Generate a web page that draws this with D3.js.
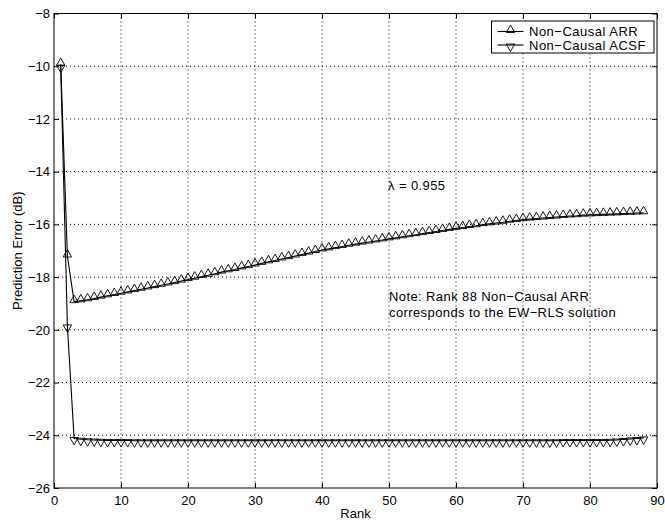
<!DOCTYPE html>
<html>
<head>
<meta charset="utf-8">
<script src="https://cdn.jsdelivr.net/npm/d3@7"></script>
<style>
  body { margin: 0; background: #fff; }
  text { font-family: "Liberation Sans", Arial, Helvetica, sans-serif; fill: #000; }
</style>
</head>
<body>
<script>
// rank 1..88
var ranks = d3.range(1, 89);

var arrValues = [
  -9.93, -17.2, -18.93, -18.9, -18.86, -18.81, -18.76, -18.71, -18.66, -18.61,
  -18.56, -18.51, -18.46, -18.41, -18.36, -18.31, -18.26, -18.21, -18.15, -18.09,
  -18.04, -17.98, -17.93, -17.87, -17.81, -17.76, -17.71, -17.65, -17.6, -17.54,
  -17.48, -17.42, -17.37, -17.31, -17.26, -17.2, -17.14, -17.09, -17.03, -16.97,
  -16.93, -16.88, -16.84, -16.79, -16.75, -16.71, -16.67, -16.63, -16.59, -16.55,
  -16.51, -16.47, -16.43, -16.39, -16.35, -16.31, -16.27, -16.23, -16.19, -16.15,
  -16.12, -16.08, -16.05, -16.01, -15.98, -15.95, -15.92, -15.88, -15.85, -15.82,
  -15.8, -15.78, -15.76, -15.74, -15.72, -15.7, -15.68, -15.67, -15.65, -15.64,
  -15.63, -15.62, -15.61, -15.6, -15.59, -15.58, -15.57, -15.56
];

var acsfValues = [
  -10.0, -19.85, -24.12, -24.15, -24.17, -24.18, -24.19, -24.2, -24.2, -24.2,
  -24.2, -24.21, -24.21, -24.21, -24.21, -24.21, -24.21, -24.21, -24.21, -24.21,
  -24.21, -24.21, -24.21, -24.21, -24.21, -24.21, -24.21, -24.21, -24.21, -24.21,
  -24.21, -24.21, -24.21, -24.21, -24.21, -24.21, -24.21, -24.21, -24.21, -24.21,
  -24.21, -24.21, -24.21, -24.21, -24.21, -24.21, -24.21, -24.21, -24.21, -24.21,
  -24.21, -24.21, -24.21, -24.21, -24.21, -24.21, -24.21, -24.21, -24.21, -24.21,
  -24.21, -24.21, -24.21, -24.21, -24.21, -24.21, -24.21, -24.21, -24.21, -24.21,
  -24.21, -24.21, -24.21, -24.21, -24.21, -24.2, -24.2, -24.2, -24.2, -24.2,
  -24.2, -24.2, -24.19, -24.18, -24.16, -24.14, -24.12, -24.1
];

var xTicks = [0, 10, 20, 30, 40, 50, 60, 70, 80, 90];
var yTicks = [-26, -24, -22, -20, -18, -16, -14, -12, -10, -8];

var seriesNames = ["Non\u2212Causal ARR", "Non\u2212Causal ACSF"];
var lambdaText = "\u03bb = 0.955";
var noteLines = ["Note: Rank 88 Non\u2212Causal ARR", "corresponds to the EW\u2212RLS solution"];

var margin = {top: 13.5, right: 8, bottom: 33, left: 54},
    W = 665, H = 521,
    width = W - margin.left - margin.right,
    height = H - margin.top - margin.bottom;

var svg = d3.select("body").append("svg")
    .attr("width", W)
    .attr("height", H);

var g = svg.append("g")
    .attr("transform", "translate(" + margin.left + "," + margin.top + ")");

var x = d3.scaleLinear().domain([0, 90]).range([0, width]);
var y = d3.scaleLinear().domain([-26, -8]).range([height, 0]);

// dotted grid
g.selectAll(".gx").data(xTicks.slice(1, -1)).enter().append("line")
    .attr("x1", d => x(d)).attr("x2", d => x(d))
    .attr("y1", 0).attr("y2", height)
    .attr("stroke", "#000").attr("stroke-width", 1)
    .attr("stroke-dasharray", "1,3");
g.selectAll(".gy").data(yTicks.slice(1, -1)).enter().append("line")
    .attr("y1", d => y(d)).attr("y2", d => y(d))
    .attr("x1", 0).attr("x2", width)
    .attr("stroke", "#000").attr("stroke-width", 1)
    .attr("stroke-dasharray", "1,3");

// axes with inward ticks
var fmt = d => d < 0 ? "\u2212" + Math.abs(d) : String(d);
var tl = 5;
var xb = g.append("g").attr("transform", "translate(0," + height + ")")
    .call(d3.axisBottom(x).tickValues(xTicks).tickSize(-tl).tickPadding(8).tickFormat(fmt));
var xt = g.append("g")
    .call(d3.axisTop(x).tickValues(xTicks).tickSize(-tl).tickFormat(""));
var yl = g.append("g")
    .call(d3.axisLeft(y).tickValues(yTicks).tickSize(-tl).tickPadding(4).tickFormat(fmt));
var yr = g.append("g").attr("transform", "translate(" + width + ",0)")
    .call(d3.axisRight(y).tickValues(yTicks).tickSize(-tl).tickFormat(""));
[xb, xt, yl, yr].forEach(function(a) {
  a.selectAll("path").remove();
  a.selectAll("line").attr("stroke", "#000");
  a.selectAll("text").style("font-size", "13px")
    .style("font-family", "'Liberation Sans', Arial, sans-serif").attr("fill", "#000");
});

g.append("rect")
    .attr("x", 0).attr("y", 0).attr("width", width).attr("height", height)
    .attr("fill", "none").attr("stroke", "#000").attr("stroke-width", 1);

// series
var arrData = ranks.map((r, i) => [r, arrValues[i]]);
var acsfData = ranks.map((r, i) => [r, acsfValues[i]]);
var line = d3.line().x(d => x(d[0])).y(d => y(d[1]));

var tw = 4.2, th = 7.5;
function upTri(cx, cy) {
  return "M" + (cx - tw) + "," + (cy + 1) + "L" + (cx + tw) + "," + (cy + 1) +
         "L" + cx + "," + (cy + 1 - th) + "Z";
}
function downTri(cx, cy) {
  return "M" + (cx - tw) + "," + (cy - 1) + "L" + (cx + tw) + "," + (cy - 1) +
         "L" + cx + "," + (cy - 1 + th) + "Z";
}

g.append("path").datum(arrData).attr("d", line)
    .attr("fill", "none").attr("stroke", "#000").attr("stroke-width", 1.1);
g.selectAll(".arr").data(arrData).enter().append("path")
    .attr("d", d => upTri(x(d[0]), y(d[1])))
    .attr("fill", "none").attr("stroke", "#000").attr("stroke-width", 0.9);

g.append("path").datum(acsfData).attr("d", line)
    .attr("fill", "none").attr("stroke", "#000").attr("stroke-width", 1.1);
g.selectAll(".acsf").data(acsfData).enter().append("path")
    .attr("d", d => downTri(x(d[0]), y(d[1])))
    .attr("fill", "none").attr("stroke", "#000").attr("stroke-width", 0.9);

// axis labels
svg.append("text")
    .attr("x", margin.left + width / 2).attr("y", 518)
    .attr("text-anchor", "middle").style("font-size", "13px").text("Rank");
svg.append("text")
    .attr("transform", "translate(22," + (margin.top + height / 2) + ") rotate(-90)")
    .attr("text-anchor", "middle").style("font-size", "13px").text("Prediction Error (dB)");

// annotations
svg.append("text").attr("x", 388).attr("y", 190)
    .style("font-size", "13px").style("letter-spacing", "0.4px").text(lambdaText);
svg.selectAll(".note").data(noteLines).enter().append("text")
    .attr("x", 389).attr("y", (d, i) => 301 + i * 16)
    .style("font-size", "13px").style("letter-spacing", "0.4px").text(d => d);

// legend
var lg = svg.append("g").attr("transform", "translate(491.5,21)");
lg.append("rect").attr("width", 162.5).attr("height", 32)
    .attr("fill", "#fff").attr("stroke", "#000").attr("stroke-width", 1);
seriesNames.forEach(function(name, i) {
  var cy = 10.5 + i * 13.5;
  lg.append("line").attr("x1", 6).attr("x2", 32).attr("y1", cy).attr("y2", cy)
      .attr("stroke", "#000").attr("stroke-width", 1.1);
  lg.append("path").attr("d", i === 0 ? upTri(19, cy) : downTri(19, cy))
      .attr("fill", "none").attr("stroke", "#000").attr("stroke-width", 0.9);
  lg.append("text").attr("x", 37.5).attr("y", cy + 4.5)
      .style("font-size", "13px").style("letter-spacing", "0.5px").text(name);
});
</script>
</body>
</html>
